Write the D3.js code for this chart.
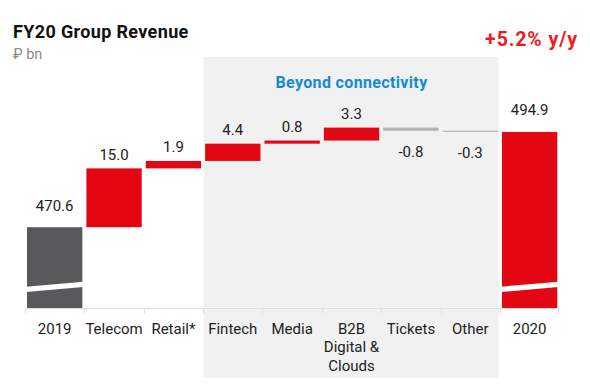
<!DOCTYPE html>
<html>
<head>
<meta charset="utf-8">
<script src="https://cdn.jsdelivr.net/npm/d3@7"></script>
<style>
  html, body { margin: 0; padding: 0; background: #fff; }
  svg { display: block; font-family: Roboto, "Noto Sans", sans-serif; }
</style>
</head>
<body>
<svg id="chart" width="590" height="389"></svg>
<script>
// ---- data ----
const categories = ["2019", "Telecom", "Retail*", "Fintech", "Media", "B2B\nDigital &\nClouds", "Tickets", "Other", "2020"];
const values = [470.6, 15.0, 1.9, 4.4, 0.8, 3.3, -0.8, -0.3, 494.9];
const barKinds = ["total", "delta", "delta", "delta", "delta", "delta", "delta", "delta", "total"];
const valueLabels = ["470.6", "15.0", "1.9", "4.4", "0.8", "3.3", "-0.8", "-0.3", "494.9"];
const groupCategories = ["Fintech", "Media", "B2B\nDigital &\nClouds", "Tickets", "Other"];
const groupTitle = "Beyond connectivity";
const yDomain = [450, 514];
const titleText = "FY20 Group Revenue";
const unitText = "₽ bn";
const growthText = "+5.2% y/y";

// ---- build waterfall ----
let running = 0;
const bars = categories.map((c, i) => {
  const v = values[i];
  let lo, hi;
  if (barKinds[i] === "total") { lo = yDomain[0]; hi = v; running = v; }
  else { const start = running; running += v; lo = Math.min(start, running); hi = Math.max(start, running); }
  return { cat: c, value: v, kind: barKinds[i], lo, hi, label: valueLabels[i] };
});

const svg = d3.select("#chart");
const x = d3.scaleBand().domain(categories).range([25, 559.3]).paddingInner(0.068).paddingOuter(0.034);
const y = d3.scaleLinear().domain(yDomain).range([308, 57]);
const step = x.step();
const slotStart = c => x(c) - (step - x.bandwidth()) / 2;

// group shading
const g0 = groupCategories[0], g1 = groupCategories[groupCategories.length - 1];
svg.append("rect")
  .attr("x", slotStart(g0) + 0.5)
  .attr("y", 57)
  .attr("width", slotStart(g1) + step - slotStart(g0) - 2)
  .attr("height", 321)
  .attr("fill", "#f1f1f1");

svg.append("text")
  .attr("x", slotStart(g0) + (slotStart(g1) + step - slotStart(g0)) / 2)
  .attr("y", 88)
  .attr("text-anchor", "middle")
  .attr("font-size", 16)
  .attr("letter-spacing", 0.35)
  .attr("font-weight", 700)
  .attr("fill", "#138bd3")
  .text(groupTitle);

// axis
const axisG = svg.append("g").attr("transform", "translate(0,308.5)");
axisG.append("line").attr("x1", 25).attr("x2", 559.3).attr("stroke", "#dedede");
const tickXs = categories.map(c => Math.round(slotStart(c)) + 0.5)
  .concat([Math.round(slotStart(categories[categories.length - 1]) + step) - 0.5]);
axisG.selectAll("line.tick")
  .data(tickXs)
  .enter().append("line")
  .attr("class", "tick")
  .attr("x1", d => d).attr("x2", d => d)
  .attr("y1", 0).attr("y2", 5)
  .attr("stroke", "#dedede");

// category labels
const catText = svg.append("g").selectAll("text")
  .data(categories).enter().append("text")
  .attr("x", d => x(d) + x.bandwidth() / 2)
  .attr("y", 333.5)
  .attr("text-anchor", "middle")
  .attr("font-size", 15)
  .attr("fill", "#222");
catText.each(function (d) {
  const lines = d.split("\n");
  d3.select(this).selectAll("tspan").data(lines).enter().append("tspan")
    .attr("x", x(d) + x.bandwidth() / 2)
    .attr("dy", (l, i) => i === 0 ? 0 : 18.5)
    .text(l => l);
});

// bars
const colorOf = b => b.kind === "total" ? (b.cat === "2019" ? "#59595b" : "#e30613") : (b.value >= 0 ? "#e30613" : "#b3b3b3");
svg.append("g").selectAll("rect")
  .data(bars).enter().append("rect")
  .attr("x", d => x(d.cat))
  .attr("y", d => y(d.hi))
  .attr("width", x.bandwidth())
  .attr("height", d => Math.max(1.2, y(d.lo) - y(d.hi)))
  .attr("fill", colorOf);

// axis break marks on total bars
const breakVal = 456;
svg.append("g").selectAll("path")
  .data(bars.filter(b => b.kind === "total")).enter().append("path")
  .attr("d", d => {
    const x0 = x(d.cat) - 1, x1 = x(d.cat) + x.bandwidth() + 1, yc = y(breakVal);
    return `M${x0},${yc + 2.2}L${x1},${yc - 2.8}L${x1},${yc + 2.6}L${x0},${yc + 7.6}Z`;
  })
  .attr("fill", "#fff");

// value labels
svg.append("g").selectAll("text")
  .data(bars).enter().append("text")
  .attr("x", d => x(d.cat) + x.bandwidth() / 2)
  .attr("y", d => d.kind === "total" ? y(d.hi) - 16.5 : (d.value >= 0 ? y(d.hi) - 8.5 : y(d.lo) + 26.5))
  .attr("text-anchor", "middle")
  .attr("font-size", 15)
  .attr("fill", "#222")
  .text(d => d.label);

// titles
svg.append("text").attr("x", 13).attr("y", 38.3)
  .attr("font-size", 18).attr("letter-spacing", 0.35).attr("font-weight", 700).attr("fill", "#111")
  .text(titleText);
svg.append("text").attr("x", 13).attr("y", 59.3)
  .attr("font-size", 14.5).attr("fill", "#8a8a8a")
  .text(unitText);
svg.append("text").attr("x", 578).attr("y", 46)
  .attr("text-anchor", "end")
  .attr("font-size", 19.5).attr("letter-spacing", 0.9).attr("font-weight", 700).attr("fill", "#f21a1a")
  .text(growthText);
</script>
</body>
</html>
